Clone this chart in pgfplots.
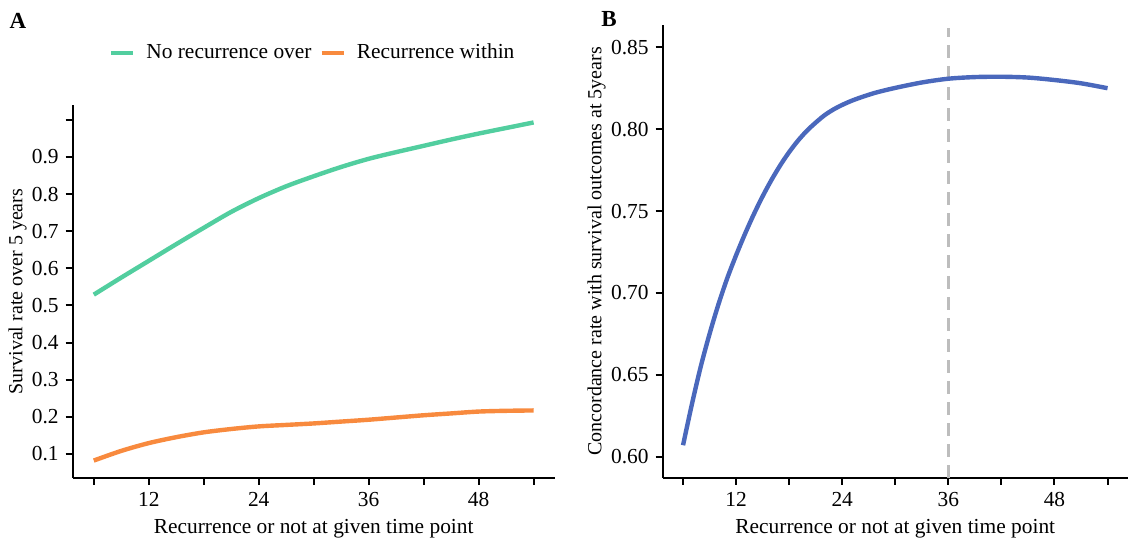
\documentclass[border=0pt]{standalone}
\usepackage{fontspec}
\setmainfont{Liberation Serif}
\usepackage{pgfplots}
\pgfplotsset{compat=1.18}
\definecolor{cGreen}{HTML}{52CE9F}
\definecolor{cOrange}{HTML}{F88A3E}
\definecolor{cBlue}{HTML}{4A68BC}
\definecolor{cGray}{HTML}{BDBDBD}

\pgfplotsset{
  panel/.style={
    scale only axis,
    anchor=south west,
    axis x line*=bottom, axis y line*=left,
    axis line style={line width=1.2pt,-},
    tick style={line width=1pt,black},
    tick align=outside,
    major tick length=3.5pt,
    xmin=3.7, xmax=56.3,
    xtick={6,12,...,54},
    xticklabels={,12,,24,,36,,48,},
    xlabel={Recurrence or not at given time point},
    xlabel style={at={(axis description cs:0.5,0)},anchor=center,yshift=-25.2pt},
    tick label style={font=\fontsize{10.7}{12}\selectfont},
    label style={font=\fontsize{10.7}{12}\selectfont},
    /pgf/number format/assume math mode=true,
    clip=false,
  }
}

\begin{document}
\begin{tikzpicture}
\path (0pt,0pt) rectangle (565.5pt,269.5pt);

% panel A
\begin{axis}[panel,
  at={(36.35pt,30.5pt)}, width=241pt, height=186.5pt,
  ymin=0.035, ymax=1.04,
  ytick={0.1,0.2,0.3,0.4,0.5,0.6,0.7,0.8,0.9,1.0},
  yticklabels={0.1,0.2,0.3,0.4,0.5,0.6,0.7,0.8,0.9,},
  ylabel={Survival rate over 5 years},
  every axis y label/.style={at={(axis description cs:-0.1141,0.5)},rotate=90,anchor=center},
  legend style={at={(0.5,1.14)},anchor=center,draw=none,fill=none,
    legend columns=2,font=\fontsize{10.7}{12}\selectfont,
    /tikz/every even column/.append style={column sep=2pt}},
  legend image code/.code={\draw[#1,line width=2.2pt] (0pt,0pt) -- (11pt,0pt); \path (14.5pt,0pt);},
]
\addplot[cGreen,line width=2.2pt,smooth] coordinates {
  (6,0.529) (9,0.575) (12,0.620) (15,0.665) (18,0.709) (21,0.752)
  (24,0.789) (27,0.821) (30,0.848) (33,0.873) (36,0.895) (39,0.913)
  (42,0.930) (45,0.947) (48,0.963) (51,0.978) (54,0.993)};
\addlegendentry{No recurrence over}
\addplot[cOrange,line width=2.2pt,smooth] coordinates {
  (6,0.082) (9,0.108) (12,0.129) (15,0.145) (18,0.158) (21,0.167)
  (24,0.174) (27,0.178) (30,0.182) (33,0.187) (36,0.192) (39,0.198)
  (42,0.204) (45,0.209) (48,0.214) (51,0.216) (54,0.217)};
\addlegendentry{Recurrence within}
\end{axis}

% panel B
\begin{axis}[panel,
  at={(331.35pt,30.5pt)}, width=232.6pt, height=226.5pt,
  ymin=0.587, ymax=0.8636,
  ytick={0.60,0.65,0.70,0.75,0.80,0.85},
  yticklabels={0.60,0.65,0.70,0.75,0.80,0.85},
  ylabel={Concordance rate with survival outcomes at 5years},
  every axis y label/.style={at={(axis description cs:-0.1419,0.5)},rotate=90,anchor=center},
]
\addplot[cGray,line width=1.3pt,dash pattern=on 6.5pt off 4pt] coordinates {(36,0.587) (36,0.862)};
\addplot[cBlue,line width=2.2pt,smooth] coordinates {
  (6,0.607) (7,0.632) (8,0.655) (9,0.675) (10,0.693) (11,0.709)
  (12,0.723) (13,0.736) (14,0.748) (15,0.759) (16,0.769) (17,0.778)
  (18,0.786) (19,0.793) (20,0.799) (21,0.804) (22,0.8085) (23,0.812)
  (24,0.8148) (25,0.8172) (26,0.8192) (27,0.821) (28,0.8226) (30,0.8252)
  (33,0.8285) (36,0.8308) (39,0.8318) (42,0.832) (45,0.8315) (48,0.830)
  (51,0.828) (54,0.825)};
\end{axis}

\node[font=\bfseries\fontsize{11.5}{13}\selectfont] at (9pt,259pt) {A};
\node[font=\bfseries\fontsize{11.5}{13}\selectfont] at (304.5pt,260pt) {B};
\end{tikzpicture}
\end{document}
